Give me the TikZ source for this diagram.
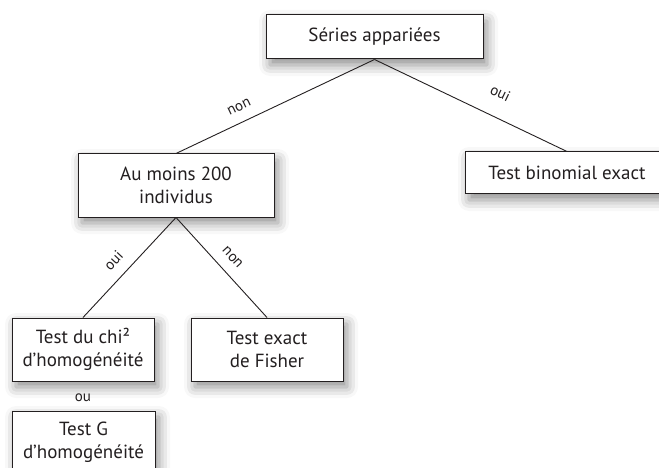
\documentclass[tikz,border=0pt]{standalone}
\usepackage{fontspec}
\setmainfont{PT Sans}
\usepackage{tikz}
\usetikzlibrary{shapes}
\usetikzlibrary{shadows.blur}
\definecolor{encre}{HTML}{231F20}
\newcommand{\boitefont}{\fontsize{19}{22.7}\selectfont}
\newcommand{\etiqfont}{\fontsize{15}{17}\selectfont}
\tikzstyle{boite}=[shape=rectangle,draw=encre,line width=1pt,fill=white,inner sep=0pt,
minimum height=63pt,align=center,text=encre,font=\boitefont,
blur shadow={shadow xshift=4pt,shadow yshift=-6pt,shadow blur radius=11pt,shadow opacity=45}]
\tikzstyle{lien}=[draw=encre,line width=0.9pt]
\tikzstyle{etiq}=[font=\etiqfont,text=encre,sloped,above=9.5pt,inner sep=1pt]

\begin{document}
\begin{tikzpicture}[x=1pt,y=-1pt]
\useasboundingbox (0,0) rectangle (659,468);
\clip (0,0) rectangle (659,468);

\node[boite,minimum width=217pt,minimum height=44pt] (appar) at (374.5,37) {Séries appariées};
\node[boite,minimum width=196pt] (moins) at (176,185.5) {Au moins 200\\individus};
\node[boite,minimum width=204pt,minimum height=42pt] (binom) at (567,173) {Test binomial exact};
\node[boite,minimum width=142pt] (chi) at (83,349.5) {Test du chi²\\d’homogénéité};
\node[boite,minimum width=152pt] (fisher) at (267,349.5) {Test exact\\de Fisher};
\node[boite,minimum width=143pt] (testg) at (83.5,442.5) {Test G\\d’homogénéité};
\node[font=\etiqfont,text=encre] (ou) at (83,398) {ou};

\draw[lien] (appar.south) to node[etiq,pos=0.65] {non} (moins.north);
\draw[lien] (appar.south) to node[etiq,pos=0.6,above=8pt] {oui} (binom.north);
\draw[lien] (moins.south) to node[etiq,pos=0.545] {oui} (chi.north);
\draw[lien] (moins.south) to node[etiq,pos=0.5] {non} (fisher.north);
\end{tikzpicture}
\end{document}
